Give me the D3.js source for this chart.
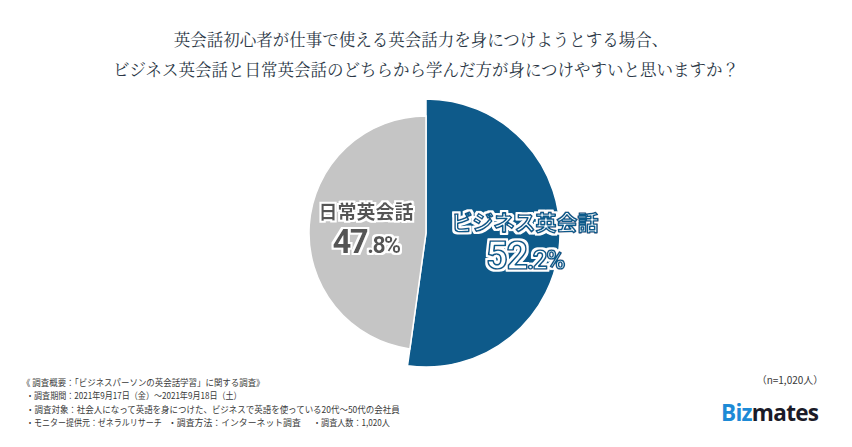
<!DOCTYPE html>
<html><head><meta charset="utf-8">
<script src="https://cdn.jsdelivr.net/npm/d3@7"></script>
<style>
html,body{margin:0;padding:0;background:#fff;}
svg{display:block;}
</style></head>
<body>
<script>
const titleLines = ["英会話初心者が仕事で使える英会話力を身につけようとする場合、",
  "ビジネス英会話と日常英会話のどちらから学んだ方が身につけやすいと思いますか？"];
const categories = ["ビジネス英会話", "日常英会話"];
const values = [52.2, 47.8];
const sampleNote = "（n=1,020人）";
const footLines = [
  "《 調査概要：「ビジネスパーソンの英会話学習」に関する調査》",
  "・調査期間：2021年9月17日（金）～2021年9月18日（土）",
  "・調査対象：社会人になって英語を身につけた、ビジネスで英語を使っている20代～50代の会社員"
];
const footLast = ["・モニター提供元：ゼネラルリサーチ", "・調査方法：インターネット調査", "・調査人数：1,020人"];

const W = 852, H = 447;
const svg = d3.select("body").append("svg").attr("width", W).attr("height", H);
const sans = "'Noto Sans CJK JP','Noto Sans',sans-serif";

// halo filter
const defs = svg.append("defs");
const f = defs.append("filter").attr("id","halo").attr("x","-20%").attr("y","-30%").attr("width","140%").attr("height","160%");
f.append("feMorphology").attr("in","SourceAlpha").attr("operator","dilate").attr("radius",2.2).attr("result","d");
f.append("feFlood").attr("flood-color","#fff").attr("result","w");
f.append("feComposite").attr("in","w").attr("in2","d").attr("operator","in").attr("result","h");
const fm = f.append("feMerge");
fm.append("feMergeNode").attr("in","h");
fm.append("feMergeNode").attr("in","SourceGraphic");

// Title
svg.selectAll("text.title").data(titleLines).join("text")
  .attr("x", (d,i)=> i===0 ? 421 : 426).attr("y", (d,i)=> 46 + i*30)
  .attr("text-anchor","middle")
  .attr("font-family","'Noto Serif CJK JP','Noto Sans CJK JP',serif")
  .attr("font-size", 16.5).attr("fill","#2b3746")
  .text(d=>d);

// Pie
const cx = 426, cy = 233;
const colors = ["#0e5a8a", "#c5c5c5"];
const radii = [134, 117];
const pie = d3.pie().sort(null).value(d=>d.v);
const arcs = pie(categories.map((c,i)=>({c, v: values[i], i})));
const g = svg.append("g").attr("transform",`translate(${cx},${cy})`);
g.selectAll("path").data(arcs).join("path")
  .attr("d", d => d3.arc().innerRadius(0).outerRadius(radii[d.data.i])(d))
  .attr("fill", d => colors[d.data.i])
  .attr("stroke","#fff").attr("stroke-width",1.5);

// Labels
const labelPos = [{x: 525, y: 230, ny: 269, fs: 21, ns: 38, ds: 26}, {x: 366, y: 219, ny: 253, fs: 19, ns: 33, ds: 23}];
[0,1].forEach(i => {
  const p = labelPos[i];
  const grp = svg.append("g").attr("font-family", sans).attr("font-weight", 700)
    .attr("text-anchor","middle").attr("filter","url(#halo)");
  const style = sel => {
    if (i === 0) sel.attr("fill","#fff").attr("stroke","#0e5a8a").attr("stroke-width",1.6).attr("stroke-linejoin","round");
    else sel.attr("fill","#555");
  };
  style(grp.append("text").attr("x", p.x).attr("y", p.y).attr("font-size", p.fs).text(categories[i]));
  const s = values[i].toFixed(1).split(".");
  const t2 = grp.append("text").attr("x", p.x).attr("y", p.ny)
    .attr("font-family","Roboto,'Noto Sans',sans-serif").attr("letter-spacing", -1.5);
  t2.append("tspan").attr("font-size", p.ns).text(s[0]);
  t2.append("tspan").attr("font-size", p.ds).text("." + s[1] + "%");
  style(t2);
});

// Footnotes (scaled horizontally to the reference widths)
function foot(txt, x, y, len) {
  const t = svg.append("text").attr("x", 0).attr("y", 0)
    .attr("font-family", sans).attr("font-size", 9).attr("fill","#3a3a3a").text(txt);
  const nat = t.node().getComputedTextLength();
  t.attr("transform", `translate(${x},${y}) scale(${len/nat},1)`);
}
const footX = [22, 26, 26], footLen = [243, 216, 374];
footLines.forEach((d,i) => foot(d, footX[i], 386 + i*13.3, footLen[i]));
const lastX = [26, 168, 313], lastLen = [136, 133, 77];
footLast.forEach((d,i) => foot(d, lastX[i], 425.9, lastLen[i]));

svg.append("text").attr("x", 790).attr("y", 384).attr("text-anchor","middle")
  .attr("font-family", sans).attr("font-size", 10).attr("fill","#3a3a3a").text(sampleNote);

// Logo
const logo = svg.append("text").attr("x", 721).attr("y", 420.5)
  .attr("font-family","'Open Sans',Lato,sans-serif").attr("font-weight",700).attr("font-size", 22.5).attr("letter-spacing",-0.7);
logo.append("tspan").attr("fill","#1d8ad6").text("Biz");
logo.append("tspan").attr("fill","#1b1b28").text("mates");
</script>
</body></html>
